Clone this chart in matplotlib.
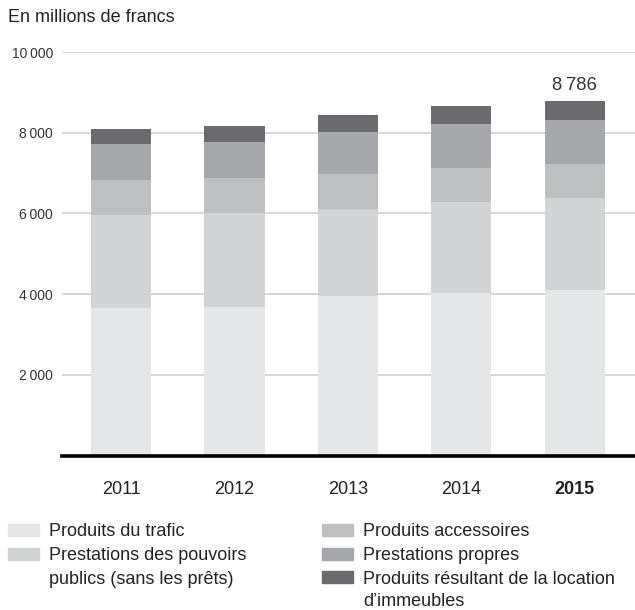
import numpy as np
import matplotlib.pyplot as plt
from matplotlib.patches import Rectangle

plt.rcParams["font.family"] = ["Liberation Sans", "DejaVu Sans"]

years = ["2011", "2012", "2013", "2014", "2015"]
trafic = [3655, 3680, 3955, 4030, 4105]
pouvoirs = [2305, 2330, 2155, 2255, 2280]
accessoires = [870, 870, 870, 840, 840]
propres = [890, 890, 1040, 1095, 1090]
location = [375, 395, 420, 445, 471]
total_label = "8\u2009786"

labels = [
    "Produits du trafic",
    "Prestations des pouvoirs\npublics (sans les prêts)",
    "Produits accessoires",
    "Prestations propres",
    "Produits résultant de la location\nd\u2019immeubles",
]
colors = ["#e5e6e8", "#d2d3d5", "#bebfc1", "#a6a7aa", "#6b6b6f"]
series = [trafic, pouvoirs, accessoires, propres, location]

W, H = 635, 610
fig = plt.figure(figsize=(W / 100, H / 100), dpi=100)
ax = fig.add_axes([62 / W, (H - 455.5) / H, (W - 62) / W, (455.5 - 52) / H])

x = np.arange(len(years))
bottom = np.zeros(len(years))
for vals, c, lab in zip(series, colors, labels):
    ax.bar(x, vals, width=0.53, bottom=bottom, color=c, zorder=2, label=lab)
    bottom += np.array(vals)

for yv in [2000, 4000, 6000, 8000, 10000]:
    ax.axhline(yv, color="#cbcbcb", lw=1.1, zorder=0)
ax.axhline(0, color="black", lw=2.6, zorder=3, clip_on=False)

ax.text(x[-1], bottom[-1] + 170, total_label, ha="center", va="bottom",
        fontsize=13.3, color="#333333")

ax.set_xlim(-0.52, 4.53)
ax.set_ylim(0, 10000)
ax.set_yticks([2000, 4000, 6000, 8000, 10000])
ax.set_yticklabels(["2\u2009000", "4\u2009000", "6\u2009000", "8\u2009000", "10\u2009000"],
                   fontsize=10, color="#333333")
ax.set_xticks(x)
ax.set_xticklabels(years, fontsize=13, color="#222222")
ax.get_xticklabels()[-1].set_fontweight("bold")
ax.tick_params(axis="y", length=0, pad=6.5)
ax.tick_params(axis="x", length=0, pad=18)
for s in ax.spines.values():
    s.set_visible(False)

fig.text(8 / W, 1 - 18 / H, "En millions de francs", fontsize=13,
         va="center", ha="left", color="#222222")

# legend drawn by hand, two columns, one text per line
rows = [530, 554, 577, 600]
pos = [(8, 0), (8, 1), (322, 0), (322, 1), (322, 2)]
for (px, r), c, lab in zip(pos, colors, labels):
    py = rows[r]
    fig.patches.append(Rectangle((px / W, 1 - (py + 6) / H), 31 / W, 12 / H,
                                 transform=fig.transFigure, color=c))
    for k, line in enumerate(lab.split("\n")):
        fig.text((px + 41) / W, 1 - rows[r + k] / H, line, fontsize=13,
                 va="center_baseline", ha="left", color="#222222")

fig.savefig("out.png", dpi=100)
